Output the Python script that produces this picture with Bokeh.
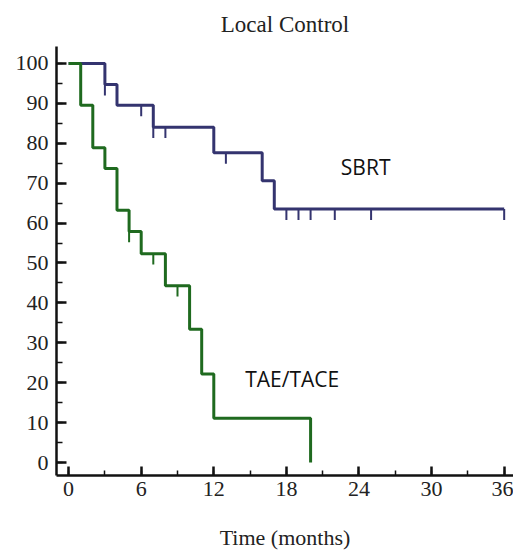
from bokeh.plotting import figure
from bokeh.models import Range1d, SingleIntervalTicker, Label
from bokeh.embed import file_html
from bokeh.resources import INLINE

# Kaplan-Meier data (months, % local control)
sbrt_time = [0, 3, 4, 7, 12, 16, 17, 36]
sbrt_surv = [100, 94.7, 89.5, 84.0, 77.6, 70.6, 63.5, 63.5]
sbrt_cens_time = [3, 6, 7, 8, 13, 18, 19, 20, 22, 25, 36]
sbrt_cens_surv = [94.7, 89.5, 84.0, 84.0, 77.6, 63.5, 63.5, 63.5, 63.5, 63.5, 63.5]

tace_time = [0, 1, 2, 3, 4, 5, 6, 8, 10, 11, 12, 20]
tace_surv = [100, 89.5, 78.9, 73.7, 63.2, 57.9, 52.3, 44.3, 33.4, 22.2, 11.1, 0]
tace_cens_time = [5, 7, 9]
tace_cens_surv = [57.9, 52.3, 44.3]

series_labels = ["SBRT", "TAE/TACE"]
title_text = "Local Control"
x_label = "Time (months)"

SBRT_COLOR = "#34346f"
TACE_COLOR = "#1f6a1f"
SERIF = "Liberation Serif"

p = figure(width=513, height=557, output_backend="svg", toolbar_location=None,
           x_range=Range1d(-1, 36.77), y_range=Range1d(-3.25, 104.25),
           min_border_left=56, min_border_right=0, min_border_top=45, min_border_bottom=82)

p.outline_line_color = None
p.xgrid.visible = False
p.ygrid.visible = False
p.background_fill_color = "white"
p.border_fill_color = "white"

p.title.text = title_text
p.title.align = "center"
p.title.text_font = SERIF
p.title.text_font_size = "23px"
p.title.text_font_style = "normal"
p.title.text_color = "#222222"
p.title.standoff = 19

# SBRT curve
p.step(sbrt_time, sbrt_surv, mode="after", line_color=SBRT_COLOR, line_width=3)
p.segment(x0=sbrt_cens_time, y0=sbrt_cens_surv, x1=sbrt_cens_time,
          y1=[v - 2.7 for v in sbrt_cens_surv], line_color=SBRT_COLOR, line_width=2)

# TAE/TACE curve
p.step(tace_time, tace_surv, mode="after", line_color=TACE_COLOR, line_width=3)
p.segment(x0=tace_cens_time, y0=tace_cens_surv, x1=tace_cens_time,
          y1=[v - 2.7 for v in tace_cens_surv], line_color=TACE_COLOR, line_width=2)

p.add_layout(Label(x=22.5, y=74, text=series_labels[0], text_font="Open Sans",
                   text_font_size="21px", text_color="#111111", text_baseline="alphabetic"))
p.add_layout(Label(x=14.6, y=21, text=series_labels[1], text_font="Open Sans",
                   text_font_size="21px", text_color="#111111", text_baseline="alphabetic"))

# axes
for ax in (p.xaxis[0], p.yaxis[0]):
    ax.axis_line_color = "#111111"
    ax.axis_line_width = 2.5
    ax.major_tick_line_color = "#111111"
    ax.major_tick_line_width = 2.5
    ax.minor_tick_line_color = "#111111"
    ax.minor_tick_line_width = 1.5
    ax.major_tick_out = 0
    ax.minor_tick_out = 0
    ax.major_label_text_font = SERIF
    ax.major_label_text_font_size = "22px"
    ax.major_label_text_color = "#222222"

p.xaxis.ticker = SingleIntervalTicker(interval=6, num_minor_ticks=2)
p.yaxis.ticker = SingleIntervalTicker(interval=10, num_minor_ticks=2)
p.xaxis.major_tick_in = 9
p.xaxis.minor_tick_in = 5
p.yaxis.major_tick_in = 10
p.yaxis.minor_tick_in = 6
p.xaxis.major_label_standoff = 6
p.yaxis.major_label_standoff = 8

p.xaxis.axis_label = x_label
p.xaxis.axis_label_text_font = SERIF
p.xaxis.axis_label_text_font_size = "22px"
p.xaxis.axis_label_text_font_style = "normal"
p.xaxis.axis_label_text_color = "#222222"
p.xaxis.axis_label_standoff = 26

open("out.html", "w").write(file_html(p, INLINE))
